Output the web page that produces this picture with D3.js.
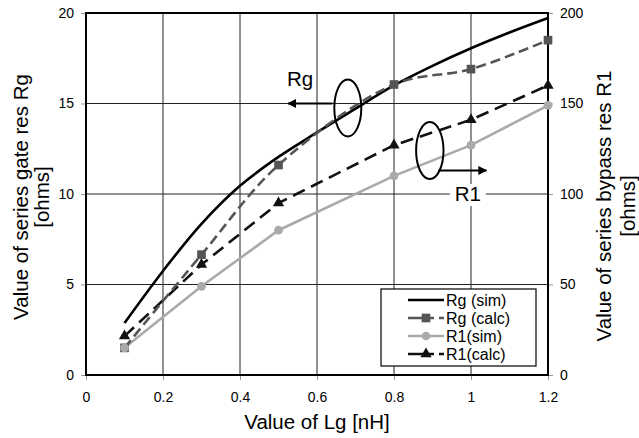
<!DOCTYPE html>
<html lang="en">
<head>
<meta charset="utf-8">
<title>Rg and R1 vs Lg</title>
<script src="https://d3js.org/d3.v7.min.js"></script>
<style>
  body { margin: 0; background: #fff; }
  text { font-family: "Liberation Sans", Arial, sans-serif; fill: #000; }
  .tick-label { font-size: 14px; }
  .axis-title { font-size: 20.5px; }
  .legend-text { font-size: 16px; }
</style>
</head>
<body>
<div id="vis"></div>
<script>
// data
const lgSim = [0.1, 0.2, 0.3, 0.4, 0.5, 0.6, 0.7, 0.8, 0.9, 1.0, 1.1, 1.2];
const rgSim = [2.87, 5.75, 8.35, 10.45, 12.05, 13.4, 14.72, 16.0, 17.08, 18.05, 18.92, 19.72];
const lgCalc = [0.1, 0.3, 0.5, 0.8, 1.0, 1.2];
const rgCalc = [1.5, 6.65, 11.6, 16.05, 16.9, 18.5];
const r1Sim = [15, 49, 80, 110, 127, 149];
const r1Calc = [21.5, 61, 95, 127, 141, 160];
const xTicks = [0, 0.2, 0.4, 0.6, 0.8, 1, 1.2];
const yLeftTicks = [0, 5, 10, 15, 20];
const yRightTicks = [0, 50, 100, 150, 200];

const width = 639, height = 438;
const pLeft = 86, pRight = 548, pTop = 13, pBottom = 375;

const x = d3.scaleLinear().domain([0, 1.2]).range([pLeft, pRight]);
const yL = d3.scaleLinear().domain([0, 20]).range([pBottom, pTop]);
const yR = d3.scaleLinear().domain([0, 200]).range([pBottom, pTop]);

const svg = d3.select("#vis").append("svg")
    .attr("width", width)
    .attr("height", height);

const defs = svg.append("defs");
defs.append("marker")
    .attr("id", "arrow")
    .attr("viewBox", "0 0 10 10")
    .attr("refX", 9).attr("refY", 5)
    .attr("markerWidth", 4.5).attr("markerHeight", 4.5)
    .attr("orient", "auto")
  .append("path")
    .attr("d", "M0,0 L10,5 L0,10 Z")
    .attr("fill", "#000");

// grid
svg.append("g").selectAll("line")
    .data(xTicks.slice(1, -1))
    .join("line")
    .attr("x1", d => x(d)).attr("x2", d => x(d))
    .attr("y1", pTop).attr("y2", pBottom)
    .attr("stroke", "#222").attr("stroke-width", 1);
svg.append("g").selectAll("line")
    .data(yLeftTicks.slice(1, -1))
    .join("line")
    .attr("x1", pLeft).attr("x2", pRight)
    .attr("y1", d => yL(d)).attr("y2", d => yL(d))
    .attr("stroke", "#222").attr("stroke-width", 1);

// axes
const axisB = svg.append("g")
    .attr("transform", `translate(0,${pBottom})`)
    .call(d3.axisBottom(x).tickValues(xTicks).tickSize(5).tickPadding(12)
        .tickFormat(d => d3.format("~g")(d)));
const axisL = svg.append("g")
    .attr("transform", `translate(${pLeft},0)`)
    .call(d3.axisLeft(yL).tickValues(yLeftTicks).tickSize(5).tickPadding(7));
const axisR = svg.append("g")
    .attr("transform", `translate(${pRight},0)`)
    .call(d3.axisRight(yR).tickValues(yRightTicks).tickSize(5).tickPadding(7));

[axisB, axisL, axisR].forEach(g => {
  g.select(".domain").remove();
  g.selectAll(".tick line").attr("stroke", "#999");
  g.selectAll(".tick text").attr("class", "tick-label")
      .style("font-family", "'Liberation Sans', Arial, sans-serif")
      .style("font-size", "14px").attr("fill", "#000");
});

// frame
svg.append("rect")
    .attr("x", pLeft).attr("y", pTop)
    .attr("width", pRight - pLeft).attr("height", pBottom - pTop)
    .attr("fill", "none").attr("stroke", "#000").attr("stroke-width", 2);

// lines
const lineL = d3.line().x(d => x(d[0])).y(d => yL(d[1]));
const lineR = d3.line().x(d => x(d[0])).y(d => yR(d[1]));

svg.append("path")
    .datum(d3.zip(lgSim, rgSim))
    .attr("d", lineL.curve(d3.curveCatmullRom.alpha(0.5)))
    .attr("fill", "none").attr("stroke", "#000").attr("stroke-width", 2.6);

svg.append("path")
    .datum(d3.zip(lgCalc, r1Sim))
    .attr("d", lineR.curve(d3.curveLinear))
    .attr("fill", "none").attr("stroke", "#aaa").attr("stroke-width", 2.6);

svg.append("path")
    .datum(d3.zip(lgCalc, r1Calc))
    .attr("d", lineR.curve(d3.curveLinear))
    .attr("fill", "none").attr("stroke", "#111").attr("stroke-width", 2.6)
    .attr("stroke-dasharray", "13,7");

svg.append("path")
    .datum(d3.zip(lgCalc, rgCalc))
    .attr("d", lineL.curve(d3.curveCatmullRom.alpha(0.5)))
    .attr("fill", "none").attr("stroke", "#555").attr("stroke-width", 2.6)
    .attr("stroke-dasharray", "10,5");

// markers
const sq = d3.symbol().type(d3.symbolSquare).size(75);
const tri = d3.symbol().type(d3.symbolTriangle).size(55);
const circ = d3.symbol().type(d3.symbolCircle).size(60);

svg.append("g").selectAll("path")
    .data(d3.zip(lgCalc, r1Calc)).join("path")
    .attr("transform", d => `translate(${x(d[0])},${yR(d[1])})`)
    .attr("d", tri).attr("fill", "#111");
svg.append("g").selectAll("path")
    .data(d3.zip(lgCalc, rgCalc)).join("path")
    .attr("transform", d => `translate(${x(d[0])},${yL(d[1])})`)
    .attr("d", sq).attr("fill", "#555");
svg.append("g").selectAll("path")
    .data(d3.zip(lgCalc, r1Sim)).join("path")
    .attr("transform", d => `translate(${x(d[0])},${yR(d[1])})`)
    .attr("d", circ).attr("fill", "#aaa");

// annotations
const ann = svg.append("g");
ann.append("line")
    .attr("x1", x(0.64)).attr("x2", x(0.525))
    .attr("y1", yL(15)).attr("y2", yL(15))
    .attr("stroke", "#000").attr("stroke-width", 2)
    .attr("marker-end", "url(#arrow)");
ann.append("rect")
    .attr("x", x(0.5)).attr("y", yL(16.9))
    .attr("width", 30).attr("height", 20).attr("fill", "#fff");
ann.append("text")
    .attr("x", x(0.556)).attr("y", yL(15.95))
    .attr("text-anchor", "middle").attr("class", "axis-title").text("Rg");
ann.append("ellipse")
    .attr("cx", x(0.68)).attr("cy", yL(14.75))
    .attr("rx", 13.5).attr("ry", 28.5)
    .attr("fill", "none").attr("stroke", "#000").attr("stroke-width", 2);

ann.append("line")
    .attr("x1", x(0.915)).attr("x2", x(1.04))
    .attr("y1", yR(113)).attr("y2", yR(113))
    .attr("stroke", "#000").attr("stroke-width", 2)
    .attr("marker-end", "url(#arrow)");
ann.append("rect")
    .attr("x", x(0.945)).attr("y", yR(105.5))
    .attr("width", 36).attr("height", 22).attr("fill", "#fff");
ann.append("text")
    .attr("x", x(0.992)).attr("y", yR(96))
    .attr("text-anchor", "middle").attr("class", "axis-title").text("R1");
ann.append("ellipse")
    .attr("cx", x(0.893)).attr("cy", yR(124))
    .attr("rx", 13.7).attr("ry", 28.5)
    .attr("fill", "none").attr("stroke", "#000").attr("stroke-width", 2);

// legend
const legend = [
  { name: "Rg (sim)", color: "#000", dash: null, sym: null },
  { name: "Rg (calc)", color: "#555", dash: "26,5", sym: sq },
  { name: "R1(sim)", color: "#aaa", dash: null, sym: circ },
  { name: "R1(calc)", color: "#111", dash: "26,5", sym: tri }
];
const lg = svg.append("g");
lg.append("rect")
    .attr("x", 381).attr("y", 289).attr("width", 155).attr("height", 77)
    .attr("fill", "#fff").attr("stroke", "#000").attr("stroke-width", 1.2);
const rows = [300, 318, 336, 354];
legend.forEach((d, i) => {
  lg.append("line")
      .attr("x1", 408).attr("x2", 444).attr("y1", rows[i]).attr("y2", rows[i])
      .attr("stroke", d.color).attr("stroke-width", 2.6)
      .attr("stroke-dasharray", d.dash);
  if (d.sym) {
    lg.append("path").attr("transform", `translate(426,${rows[i]})`)
        .attr("d", d.sym).attr("fill", d.color);
  }
  lg.append("text")
      .attr("x", 446).attr("y", rows[i] + 5.5)
      .attr("class", "legend-text").text(d.name);
});

// axis titles
svg.append("text")
    .attr("x", (pLeft + pRight) / 2).attr("y", 429)
    .attr("text-anchor", "middle").attr("class", "axis-title")
    .text("Value of Lg [nH]");

const ltitle = svg.append("text")
    .attr("transform", "translate(0,197) rotate(-90)")
    .attr("text-anchor", "middle").attr("class", "axis-title");
ltitle.append("tspan").attr("x", 0).attr("y", 28).text("Value of series gate res Rg");
ltitle.append("tspan").attr("x", 0).attr("y", 49).text("[ohms]");

const rtitle = svg.append("text")
    .attr("transform", "translate(0,206) rotate(-90)")
    .attr("text-anchor", "middle").attr("class", "axis-title");
rtitle.append("tspan").attr("x", 0).attr("y", 611).text("Value of series bypass res R1");
rtitle.append("tspan").attr("x", 0).attr("y", 635).text("[ohms]");
</script>
</body>
</html>
